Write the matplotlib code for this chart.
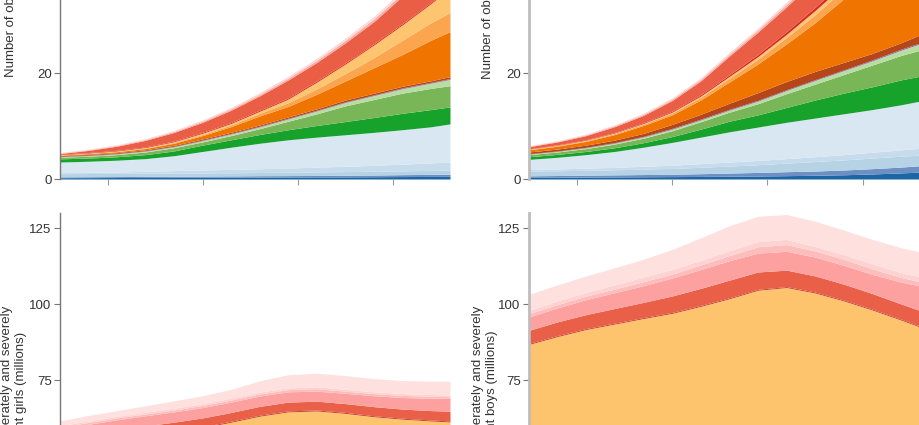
import numpy as np
import matplotlib.pyplot as plt

plt.rcParams['font.family'] = ['Liberation Sans', 'DejaVu Sans']

years = [1975, 1978, 1981, 1984, 1987, 1990, 1993, 1996, 1999, 2002, 2005, 2008, 2011, 2014, 2016]

# cumulative top of each region (millions), bottom to top
obese_girls = [
    [0.25, 0.26, 0.28, 0.29, 0.31, 0.32, 0.34, 0.36, 0.38, 0.39, 0.40, 0.43, 0.46, 0.48, 0.50],
    [0.40, 0.43, 0.46, 0.49, 0.52, 0.55, 0.58, 0.62, 0.64, 0.67, 0.70, 0.75, 0.82, 0.87, 0.90],
    [1.00, 1.03, 1.06, 1.09, 1.12, 1.15, 1.18, 1.22, 1.28, 1.34, 1.40, 1.46, 1.54, 1.63, 1.70],
    [1.20, 1.26, 1.32, 1.44, 1.58, 1.70, 1.82, 1.94, 2.06, 2.24, 2.40, 2.58, 2.80, 3.04, 3.20],
    [3.20, 3.35, 3.55, 3.85, 4.40, 5.20, 6.00, 6.75, 7.40, 7.90, 8.35, 8.80, 9.30, 9.85, 10.40],
    [3.80, 3.95, 4.20, 4.60, 5.30, 6.40, 7.40, 8.40, 9.30, 10.10, 10.85, 11.60, 12.40, 13.10, 13.60],
    [4.10, 4.30, 4.60, 5.10, 5.90, 7.00, 8.20, 9.50, 10.90, 12.30, 13.80, 15.00, 16.20, 17.10, 17.60],
    [4.20, 4.42, 4.74, 5.27, 6.10, 7.25, 8.50, 9.85, 11.35, 12.85, 14.45, 15.75, 17.05, 18.10, 18.80],
    [4.27, 4.50, 4.82, 5.36, 6.20, 7.36, 8.62, 9.98, 11.48, 12.98, 14.58, 15.88, 17.20, 18.25, 18.95],
    [4.40, 4.64, 4.97, 5.52, 6.36, 7.55, 8.82, 10.20, 11.72, 13.25, 14.90, 16.20, 17.50, 18.55, 19.30],
    [4.50, 4.78, 5.15, 5.75, 6.75, 8.20, 9.90, 11.90, 13.70, 16.00, 18.50, 21.00, 23.50, 26.20, 27.80],
    [4.55, 4.84, 5.22, 5.85, 6.90, 8.40, 10.20, 12.40, 14.40, 17.00, 19.90, 22.90, 26.20, 29.50, 31.40],
    [4.60, 4.90, 5.30, 5.95, 7.05, 8.65, 10.50, 12.80, 15.10, 18.30, 21.70, 25.30, 29.10, 33.10, 36.00],
    [4.70, 5.00, 5.41, 6.07, 7.19, 8.81, 10.68, 13.00, 15.32, 18.52, 21.92, 25.52, 29.33, 33.33, 36.25],
    [4.80, 5.40, 6.20, 7.30, 8.80, 10.70, 13.00, 15.70, 18.70, 22.00, 25.70, 29.70, 34.50, 40.50, 45.00],
    [4.90, 5.52, 6.34, 7.46, 8.99, 10.93, 13.27, 16.00, 19.05, 22.40, 26.15, 30.20, 35.05, 41.10, 45.80],
    [5.00, 5.64, 6.48, 7.62, 9.18, 11.16, 13.54, 16.30, 19.40, 22.80, 26.60, 30.70, 35.60, 41.70, 46.60],
]

obese_boys = [
    [0.30, 0.33, 0.36, 0.39, 0.42, 0.45, 0.48, 0.52, 0.57, 0.63, 0.70, 0.80, 0.95, 1.15, 1.30],
    [0.60, 0.66, 0.72, 0.78, 0.84, 0.90, 1.00, 1.12, 1.24, 1.38, 1.50, 1.70, 1.95, 2.25, 2.50],
    [1.50, 1.56, 1.64, 1.74, 1.86, 2.00, 2.20, 2.45, 2.70, 3.00, 3.30, 3.60, 3.95, 4.30, 4.50],
    [1.80, 1.90, 2.04, 2.20, 2.40, 2.60, 2.90, 3.20, 3.50, 3.85, 4.20, 4.60, 5.05, 5.50, 5.80],
    [3.70, 4.10, 4.60, 5.20, 6.00, 6.90, 7.90, 8.90, 9.80, 10.70, 11.50, 12.30, 13.10, 14.00, 14.70],
    [4.20, 4.65, 5.20, 5.90, 6.85, 8.00, 9.40, 10.90, 12.10, 13.50, 14.90, 16.20, 17.40, 18.70, 19.40],
    [4.60, 5.10, 5.75, 6.60, 7.70, 9.10, 10.80, 12.60, 14.20, 16.10, 17.90, 19.70, 21.50, 23.30, 24.30],
    [4.70, 5.22, 5.90, 6.78, 7.93, 9.40, 11.15, 13.00, 14.70, 16.70, 18.60, 20.45, 22.30, 24.30, 25.50],
    [4.78, 5.30, 6.00, 6.88, 8.05, 9.55, 11.30, 13.15, 14.85, 16.85, 18.75, 20.60, 22.48, 24.50, 25.70],
    [5.10, 5.65, 6.40, 7.35, 8.60, 10.30, 12.20, 14.30, 16.30, 18.40, 20.30, 22.00, 23.70, 25.70, 27.20],
    [5.50, 6.20, 7.10, 8.40, 10.10, 12.10, 14.90, 18.30, 21.70, 25.50, 29.50, 34.00, 39.00, 44.00, 48.00],
    [5.60, 6.32, 7.25, 8.60, 10.35, 12.45, 15.40, 19.00, 22.60, 26.70, 31.00, 35.80, 41.00, 46.20, 50.30],
    [5.65, 6.38, 7.33, 8.70, 10.48, 12.62, 15.65, 19.35, 23.10, 27.30, 31.80, 36.60, 41.80, 47.00, 51.20],
    [5.70, 6.45, 7.42, 8.80, 10.62, 12.80, 15.88, 19.65, 23.50, 27.80, 32.40, 37.20, 42.40, 47.60, 51.80],
    [6.10, 7.00, 8.20, 9.90, 12.00, 14.80, 18.50, 23.20, 27.70, 32.50, 37.50, 42.50, 47.50, 52.50, 56.00],
    [6.20, 7.12, 8.35, 10.08, 12.22, 15.06, 18.80, 23.55, 28.10, 32.95, 38.00, 43.05, 48.10, 53.15, 56.80],
    [6.30, 7.24, 8.50, 10.26, 12.44, 15.32, 19.10, 23.90, 28.50, 33.40, 38.50, 43.60, 48.70, 53.80, 57.60],
]

under_girls = [
    [53.0, 54.2, 55.4, 56.6, 57.9, 59.4, 61.2, 63.2, 64.6, 64.9, 64.1, 63.0, 62.2, 61.6, 61.3],
    [53.3, 54.5, 55.7, 56.9, 58.2, 59.7, 61.5, 63.5, 64.9, 65.2, 64.4, 63.3, 62.5, 61.9, 61.6],
    [56.5, 57.7, 58.9, 60.0, 61.2, 62.6, 64.4, 66.4, 67.8, 68.1, 67.3, 66.3, 65.5, 65.0, 64.8],
    [59.0, 60.5, 62.0, 63.3, 64.6, 66.0, 67.8, 69.8, 71.2, 71.4, 70.7, 69.9, 69.3, 69.1, 69.0],
    [59.6, 61.1, 62.6, 63.9, 65.2, 66.7, 68.5, 70.5, 71.9, 72.2, 71.4, 70.6, 70.0, 69.7, 69.6],
    [60.0, 61.6, 63.1, 64.5, 65.8, 67.3, 69.1, 71.1, 72.5, 72.8, 72.0, 71.2, 70.6, 70.3, 70.1],
    [61.6, 63.4, 65.0, 66.6, 68.2, 69.9, 72.0, 74.8, 76.8, 77.3, 76.5, 75.5, 74.9, 74.7, 74.7],
]

under_boys = [
    [86.8, 89.4, 91.7, 93.5, 95.3, 97.0, 99.3, 101.8, 104.6, 105.5, 103.7, 101.1, 98.1, 94.8, 92.5],
    [87.1, 89.7, 92.0, 93.8, 95.6, 97.3, 99.6, 102.1, 104.9, 105.8, 104.0, 101.4, 98.4, 95.1, 92.8],
    [91.4, 94.2, 96.6, 98.6, 100.6, 102.7, 105.2, 107.9, 110.6, 111.2, 109.3, 106.6, 103.5, 100.1, 97.9],
    [95.8, 98.8, 101.5, 103.8, 106.1, 108.6, 111.4, 114.3, 116.8, 117.4, 115.5, 112.8, 109.8, 107.3, 106.0],
    [96.9, 99.9, 102.7, 105.0, 107.4, 109.9, 112.9, 116.0, 118.9, 119.6, 117.5, 114.8, 111.6, 108.8, 107.4],
    [98.0, 101.1, 103.9, 106.4, 108.9, 111.4, 114.4, 117.6, 120.6, 121.3, 119.0, 116.3, 113.3, 110.4, 109.0],
    [103.2, 106.4, 109.3, 112.0, 114.8, 118.0, 121.8, 125.8, 128.9, 129.5, 127.3, 124.4, 121.3, 118.6, 117.2],
]

obese_colors = ['#1b67a6', '#6d8fc4', '#b5d3e5', '#c6dbeb', '#d8e7f2',
                '#17a22c', '#78b657', '#b9dca2', '#8a6bb0', '#b4461a',
                '#ef7400', '#fca54f', '#fdc570', '#d62a22', '#ea5e46',
                '#fcaaa5', '#fdd9d7']
under_colors = ['#fdc46d', '#c0392b', '#e95f47', '#fca19f', '#fcbdbc',
                '#fdd2d1', '#fee0df']

W, H = 920, 425
fig = plt.figure(figsize=(W / 100, H / 100), dpi=100)


def make_axes(left, right, base_px, top_px):
    return fig.add_axes([left / W, 1 - base_px / H, (right - left) / W,
                         (base_px - top_px) / H])


def draw(ax, tops, colors, ylim, yticks, label, dark, lab_xy):
    prev = np.zeros(len(years))
    for top, c in zip(tops, colors):
        ax.fill_between(years, prev, top, color=c, lw=0)
        prev = np.array(top)
    ax.set_xlim(1975, 2016)
    ax.set_ylim(*ylim)
    ax.set_yticks(yticks)
    ax.set_xticks([1980, 1990, 2000, 2010])
    for s in ['top', 'right', 'bottom']:
        ax.spines[s].set_visible(False)
    sc = '#777777' if dark else '#bdbdbd'
    ax.spines['left'].set_color(sc)
    ax.spines['left'].set_linewidth(1.0 if dark else 2.0)
    ax.tick_params(axis='y', length=4, width=0.8, color='#777777',
                   labelsize=9.5, labelcolor='#333333', pad=2)
    ax.tick_params(axis='x', length=4.5, width=0.8, color='#999999',
                   labelbottom=False)
    ax.set_ylabel(label, fontsize=9.5, color='#333333')
    ax.yaxis.set_label_coords(*lab_xy)


# top row: obesity, y = 0 at pixel 179, 5.3 px per million
ax1 = make_axes(60, 450, 179, 179 - 80 * 5.3)
draw(ax1, obese_girls, obese_colors, (0, 80), [0, 20],
     'Number of obese girls (millions)', True, (-0.11, 0.46))
ax2 = make_axes(529, 920, 179, 179 - 80 * 5.3)
draw(ax2, obese_boys, obese_colors, (0, 80), [0, 20],
     'Number of obese boys (millions)', False, (-0.09, 0.46))

# bottom row: underweight, y = 130 at pixel 213, 3.04 px per million
ax3 = make_axes(60, 450, 213 + 130 * 3.04, 213)
draw(ax3, under_girls, under_colors, (0, 130), [75, 100, 125],
     'Number of moderately and severely\nunderweight girls (millions)', True, (-0.085, 0.5))
ax4 = make_axes(529, 920, 213 + 130 * 3.04, 213)
draw(ax4, under_boys, under_colors, (0, 130), [75, 100, 125],
     'Number of moderately and severely\nunderweight boys (millions)', False, (-0.08, 0.5))

fig.savefig('out.png', dpi=100)
